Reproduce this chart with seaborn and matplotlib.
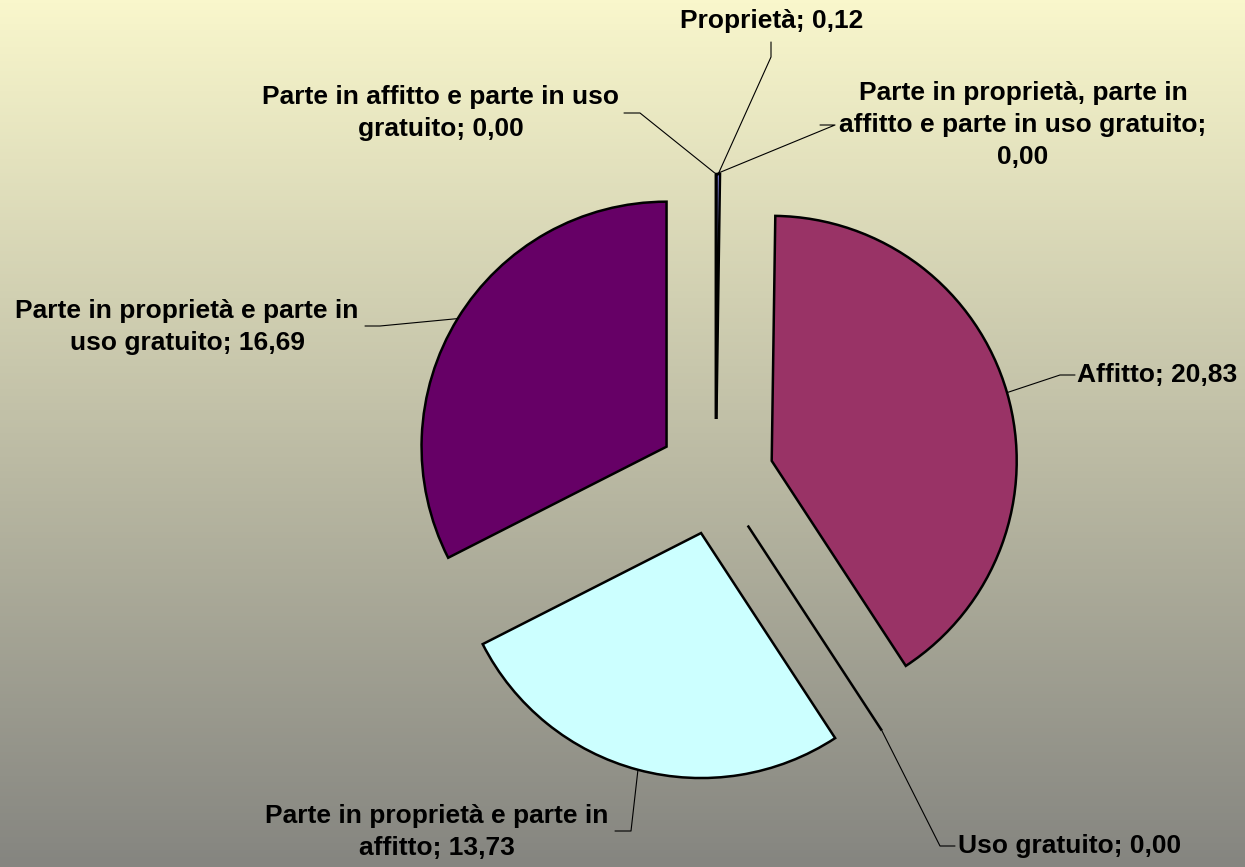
import numpy as np
import matplotlib
matplotlib.use("Agg")
import matplotlib.pyplot as plt
import seaborn as sns

# Dati (valori percentuali come nel grafico originale)
categorie = [
    "Proprietà",
    "Affitto",
    "Uso gratuito",
    "Parte in proprietà e parte in affitto",
    "Parte in proprietà e parte in uso gratuito",
    "Parte in affitto e parte in uso gratuito",
    "Parte in proprietà, parte in affitto e parte in uso gratuito",
]
valori = [0.12, 20.83, 0.00, 13.73, 16.69, 0.00, 0.00]
colori = ["#9999FF", "#993366", "#FFFFCC", "#CCFFFF", "#660066", "#FF8080", "#0066CC"]

# etichette spezzate su più righe come nell'originale
nomi_a_capo = [
    "Proprietà",
    "Affitto",
    "Uso gratuito",
    "Parte in proprietà e parte in\naffitto",
    "Parte in proprietà e parte in\nuso gratuito",
    "Parte in affitto e parte in uso\ngratuito",
    "Parte in proprietà, parte in\naffitto e parte in uso gratuito",
]
separatori = ["; ", "; ", "; ", "; ", "; ", "; ", ";\n"]

W, H = 1245, 867

sns.set_theme(style="white")
plt.rcParams["font.family"] = ["Liberation Sans", "DejaVu Sans"]

fig = plt.figure(figsize=(W / 100, H / 100), dpi=100)
ax = fig.add_axes([0, 0, 1, 1])

# sfondo sfumato (giallo chiaro -> grigio)
top = np.array([249, 247, 204]) / 255
bottom = np.array([133, 133, 128]) / 255
t = np.linspace(0, 1, 256)[:, None, None]
grad = top * (1 - t) + bottom * t
ax.imshow(grad, extent=[0, W, H, 0], aspect="auto", zorder=0)

# torta esplosa (asse y invertito: si parte dall'alto in senso orario)
wedges, _ = ax.pie(
    valori,
    colors=sns.color_palette(colori),
    startangle=-90,
    counterclock=True,
    center=(716, 477),
    radius=245,
    explode=[58] * len(valori),
    normalize=True,
    wedgeprops=dict(edgecolor="black", linewidth=1.8),
)
for w in wedges:
    w.set_zorder(2)

ax.set_xlim(0, W)
ax.set_ylim(H, 0)
ax.set_aspect("auto")
ax.axis("off")

# posizione testo (centro blocco), allineamento, gomito della linea guida
layout = [
    dict(xy=(772, 21), ha="center", knee=[(771, 57), (771, 42)]),
    dict(xy=(1077, 375), ha="left", knee=[(1060, 375), (1075, 375)]),
    dict(xy=(958, 846), ha="left", knee=[(940, 846), (955, 846)]),
    dict(xy=(437, 832), ha="center", knee=[(631, 831), (615, 831)]),
    dict(xy=(187, 327), ha="center", knee=[(380, 326), (365, 326)]),
    dict(xy=(441, 113), ha="center", knee=[(640, 113), (624, 113)]),
    dict(xy=(1023, 125), ha="center", knee=[(835, 125), (820, 125)]),
]

for w, nome, sep, v, lay in zip(wedges, nomi_a_capo, separatori, valori, layout):
    ang = np.deg2rad((w.theta1 + w.theta2) / 2)
    ax_x = w.center[0] + w.r * np.cos(ang)
    ax_y = w.center[1] + w.r * np.sin(ang)
    xs = [ax_x] + [p[0] for p in lay["knee"]]
    ys = [ax_y] + [p[1] for p in lay["knee"]]
    ax.plot(xs, ys, color="black", lw=0.8, zorder=3)
    testo = nome + sep + f"{v:.2f}".replace(".", ",")
    ax.text(lay["xy"][0], lay["xy"][1], testo, ha=lay["ha"], va="center",
            multialignment="center", fontsize=19, fontweight="bold",
            color="black", linespacing=1.42, zorder=4)

fig.savefig("out.png", dpi=100)
